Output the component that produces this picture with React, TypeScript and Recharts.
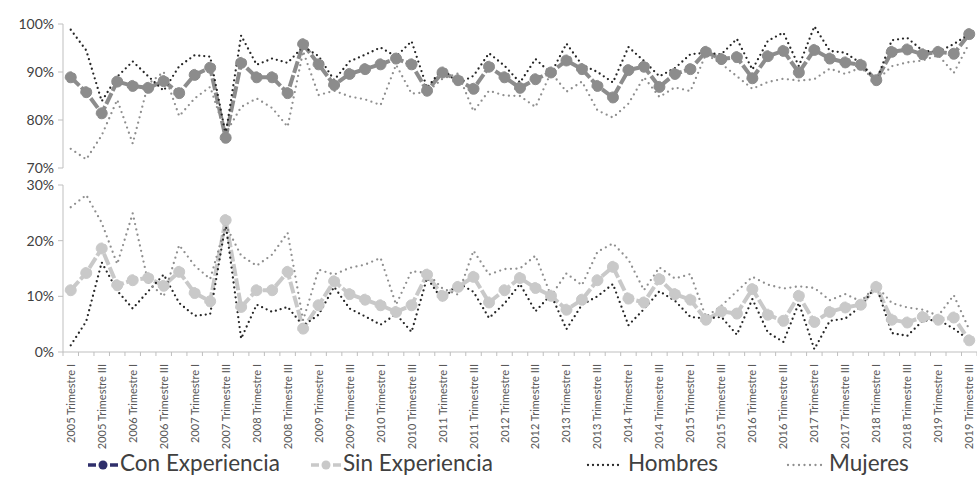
import React from 'react';
import { LineChart, Line, XAxis, YAxis } from 'recharts';

const FONT = 'Lato, "Open Sans", sans-serif';

const YEARS = [2005, 2006, 2007, 2008, 2009, 2010, 2011, 2012, 2013, 2014, 2015, 2016, 2017, 2018, 2019];
const QUARTERS = ['I', 'II', 'III', 'IV'];
const LAST_QUARTER_COUNT_2019 = 3;
const CATEGORIES: string[] = [];
YEARS.forEach((y) => {
  QUARTERS.forEach((q, qi) => {
    if (y === 2019 && qi >= LAST_QUARTER_COUNT_2019) return;
    CATEGORIES.push(`${y} Trimestre ${q}`);
  });
});

// Upper panel (% con experiencia)
const CON_EXPERIENCIA = [88.9, 85.8, 81.4, 88.0, 87.1, 86.7, 88.1, 85.6, 89.4, 90.9, 76.3, 91.9, 88.9, 88.9, 85.6, 95.8, 91.6, 87.3, 89.6, 90.6, 91.6, 92.8, 91.6, 86.1, 89.9, 88.3, 86.5, 91.1, 88.9, 86.7, 88.5, 89.9, 92.4, 90.6, 87.1, 84.7, 90.4, 91.1, 86.9, 89.6, 90.6, 94.2, 92.7, 93.1, 88.7, 93.3, 94.4, 89.9, 94.6, 92.8, 92.0, 91.5, 88.3, 94.2, 94.7, 93.7, 94.2, 93.8, 97.9];
const HOMBRES_CON = [98.8, 94.5, 83.9, 89.0, 92.2, 89.1, 86.1, 91.2, 93.5, 93.2, 77.0, 97.6, 91.5, 92.8, 91.9, 95.3, 93.3, 88.3, 92.2, 93.6, 95.1, 93.2, 96.4, 86.7, 90.7, 87.6, 89.2, 93.9, 91.3, 87.8, 92.7, 89.7, 95.9, 91.5, 90.0, 87.8, 95.2, 92.3, 89.1, 90.8, 93.7, 94.0, 93.7, 96.9, 90.5, 96.5, 98.2, 91.2, 99.5, 94.4, 94.0, 91.8, 88.1, 96.6, 97.1, 94.4, 94.2, 95.8, 97.9];
const MUJERES_CON = [74.0, 71.8, 76.8, 84.2, 75.1, 87.5, 90.0, 80.8, 84.5, 86.9, 77.2, 82.7, 84.5, 82.5, 78.6, 94.3, 85.2, 86.1, 84.9, 84.3, 83.1, 91.5, 85.5, 85.8, 88.6, 89.7, 81.8, 86.1, 85.1, 85.0, 82.7, 89.9, 85.9, 88.0, 82.0, 80.5, 83.4, 88.9, 84.8, 86.8, 86.0, 93.7, 91.7, 89.1, 86.5, 87.9, 88.6, 88.2, 88.5, 90.7, 89.6, 90.9, 88.1, 91.2, 92.0, 92.4, 93.5, 89.8, 96.0];

// Lower panel (% sin experiencia)
const SIN_EXPERIENCIA = [11.1, 14.2, 18.6, 12.0, 12.9, 13.3, 11.9, 14.4, 10.6, 9.1, 23.7, 8.1, 11.1, 11.1, 14.4, 4.2, 8.4, 12.7, 10.4, 9.4, 8.4, 7.2, 8.4, 13.9, 10.1, 11.7, 13.5, 8.9, 11.1, 13.3, 11.5, 10.1, 7.6, 9.4, 12.9, 15.3, 9.6, 8.9, 13.1, 10.4, 9.4, 5.8, 7.3, 6.9, 11.3, 6.7, 5.6, 10.1, 5.4, 7.2, 8.0, 8.5, 11.7, 5.8, 5.3, 6.3, 5.8, 6.2, 2.1];
const HOMBRES_SIN = [1.2, 5.5, 16.1, 11.0, 7.8, 10.9, 13.9, 8.8, 6.5, 6.8, 23.0, 2.4, 8.5, 7.2, 8.1, 4.7, 6.7, 11.7, 7.8, 6.4, 4.9, 6.8, 3.6, 13.3, 9.3, 12.4, 10.8, 6.1, 8.7, 12.2, 7.3, 10.3, 4.1, 8.5, 10.0, 12.2, 4.8, 7.7, 10.9, 9.2, 6.3, 6.0, 6.3, 3.1, 9.5, 3.5, 1.8, 8.8, 0.5, 5.6, 6.0, 8.2, 11.9, 3.4, 2.9, 5.6, 5.8, 4.2, 2.1];
const MUJERES_SIN = [26.0, 28.2, 23.2, 15.8, 24.9, 12.5, 10.0, 19.2, 15.5, 13.1, 22.8, 17.3, 15.5, 17.5, 21.4, 5.7, 14.8, 13.9, 15.1, 15.7, 16.9, 8.5, 14.5, 14.2, 11.4, 10.3, 18.2, 13.9, 14.9, 15.0, 17.3, 10.1, 14.1, 12.0, 18.0, 19.5, 16.6, 11.1, 15.2, 13.2, 14.0, 6.3, 8.3, 10.9, 13.5, 12.1, 11.4, 11.8, 11.5, 9.3, 10.4, 9.1, 11.9, 8.8, 8.0, 7.6, 6.5, 10.2, 4.0];

const TOP_TICKS = [70, 80, 90, 100];
const BOTTOM_TICKS = [0, 10, 20, 30];

const topData = CATEGORIES.map((cat, i) => ({
  cat,
  con: CON_EXPERIENCIA[i],
  hombres: HOMBRES_CON[i],
  mujeres: MUJERES_CON[i],
}));
const bottomData = CATEGORIES.map((cat, i) => ({
  cat,
  sin: SIN_EXPERIENCIA[i],
  hombres: HOMBRES_SIN[i],
  mujeres: MUJERES_SIN[i],
}));

const W = 977;
const Y_AXIS_W = 63;
const BW = (W - Y_AXIS_W) / CATEGORIES.length;

const CON_COLOR = '#8c8c8c';
const SIN_COLOR = '#c9c9c9';
const HOMBRES_COLOR = '#262626';
const MUJERES_COLOR = '#8f8f8f';
const AXIS_COLOR = '#bfbfbf';
const TEXT_COLOR = '#404040';

const pct = (v: number) => `${v}%`;

function CatTick(props: any) {
  const { x, y, payload } = props;
  const i = payload.index;
  return (
    <g>
      <line x1={x - BW / 2} x2={x - BW / 2} y1={y} y2={y + 4} stroke={AXIS_COLOR} />
      {i === CATEGORIES.length - 1 && (
        <line x1={x + BW / 2} x2={x + BW / 2} y1={y} y2={y + 4} stroke={AXIS_COLOR} />
      )}
      {i % 2 === 0 && (
        <text
          transform={`translate(${x + 4},${y + 12}) rotate(-90)`}
          textAnchor="end"
          fontSize={11}
          fill="#595959"
          fontFamily={FONT}
        >
          {payload.value}
        </text>
      )}
    </g>
  );
}

const dotCon = { r: 5.5, fill: CON_COLOR, stroke: CON_COLOR, strokeWidth: 1 };
const dotSin = { r: 5.5, fill: SIN_COLOR, stroke: SIN_COLOR, strokeWidth: 1 };

const DASH_MAIN = '12 2.5';
const DOT_H = '0 5';
const DOT_M = '0 5.5';

function Legend() {
  const y = 465;
  const top = 437;
  return (
    <svg width={W} height={40} style={{ position: 'absolute', left: 0, top }}>
      <g transform={`translate(0,${-top})`} fontFamily={FONT} fontSize={22.5} fill={TEXT_COLOR}>
        <line x1={88} x2={96} y1={y} y2={y} stroke="#2f2f6b" strokeWidth={3.5} />
        <line x1={110} x2={118} y1={y} y2={y} stroke="#2f2f6b" strokeWidth={3.5} />
        <circle cx={103} cy={y} r={4.5} fill="#2f2f6b" />
        <text x={120} y={471}>Con Experiencia</text>
        <line x1={311} x2={319} y1={y} y2={y} stroke={SIN_COLOR} strokeWidth={3.5} />
        <line x1={333} x2={341} y1={y} y2={y} stroke={SIN_COLOR} strokeWidth={3.5} />
        <circle cx={326} cy={y} r={4.5} fill={SIN_COLOR} />
        <text x={343} y={471}>Sin Experiencia</text>
        <line x1={588} x2={622} y1={y} y2={y} stroke={HOMBRES_COLOR} strokeWidth={2.3} strokeDasharray={DOT_H} strokeLinecap="round" />
        <text x={628} y={471}>Hombres</text>
        <line x1={788} x2={822} y1={y} y2={y} stroke={MUJERES_COLOR} strokeWidth={2.3} strokeDasharray={DOT_M} strokeLinecap="round" />
        <text x={829} y={471}>Mujeres</text>
      </g>
    </svg>
  );
}

export default function App() {
  return (
    <div style={{ position: 'absolute', left: 0, top: 0, width: W, height: 477, background: '#fff', overflow: 'hidden' }}>
      <div style={{ position: 'absolute', left: 0, top: 0 }}>
        <LineChart width={W} height={180} data={topData} margin={{ top: 24, right: 0, bottom: 12, left: 0 }}>
          <XAxis dataKey="cat" hide scale="band" />
          <YAxis
            width={Y_AXIS_W}
            domain={[70, 100]}
            ticks={TOP_TICKS}
            allowDataOverflow
            tickFormatter={pct}
            axisLine={{ stroke: AXIS_COLOR }}
            tickLine={{ stroke: AXIS_COLOR }}
            tickSize={5}
            tickMargin={4}
            tick={{ fill: TEXT_COLOR, fontSize: 14, fontFamily: FONT }}
          />
          <Line dataKey="con" stroke={CON_COLOR} strokeWidth={4} strokeDasharray={DASH_MAIN} dot={dotCon} isAnimationActive={false} />
          <Line dataKey="hombres" stroke={HOMBRES_COLOR} strokeWidth={2.3} strokeDasharray={DOT_H} strokeLinecap="round" dot={false} isAnimationActive={false} />
          <Line dataKey="mujeres" stroke={MUJERES_COLOR} strokeWidth={2.3} strokeDasharray={DOT_M} strokeLinecap="round" dot={false} isAnimationActive={false} />
        </LineChart>
      </div>
      <div style={{ position: 'absolute', left: 0, top: 160 }}>
        <LineChart width={W} height={300} data={bottomData} margin={{ top: 25, right: 0, bottom: 0, left: 0 }}>
          <XAxis
            dataKey="cat"
            scale="band"
            interval={0}
            height={108}
            axisLine={{ stroke: AXIS_COLOR }}
            tickLine={false}
            tickSize={0}
            tickMargin={0}
            tick={<CatTick />}
          />
          <YAxis
            width={Y_AXIS_W}
            domain={[0, 30]}
            ticks={BOTTOM_TICKS}
            allowDataOverflow
            tickFormatter={pct}
            axisLine={{ stroke: AXIS_COLOR }}
            tickLine={{ stroke: AXIS_COLOR }}
            tickSize={5}
            tickMargin={4}
            tick={{ fill: TEXT_COLOR, fontSize: 14, fontFamily: FONT }}
          />
          <Line dataKey="sin" stroke={SIN_COLOR} strokeWidth={4} strokeDasharray={DASH_MAIN} dot={dotSin} isAnimationActive={false} />
          <Line dataKey="hombres" stroke={HOMBRES_COLOR} strokeWidth={2.3} strokeDasharray={DOT_H} strokeLinecap="round" dot={false} isAnimationActive={false} />
          <Line dataKey="mujeres" stroke={MUJERES_COLOR} strokeWidth={2.3} strokeDasharray={DOT_M} strokeLinecap="round" dot={false} isAnimationActive={false} />
        </LineChart>
      </div>
      <Legend />
    </div>
  );
}
